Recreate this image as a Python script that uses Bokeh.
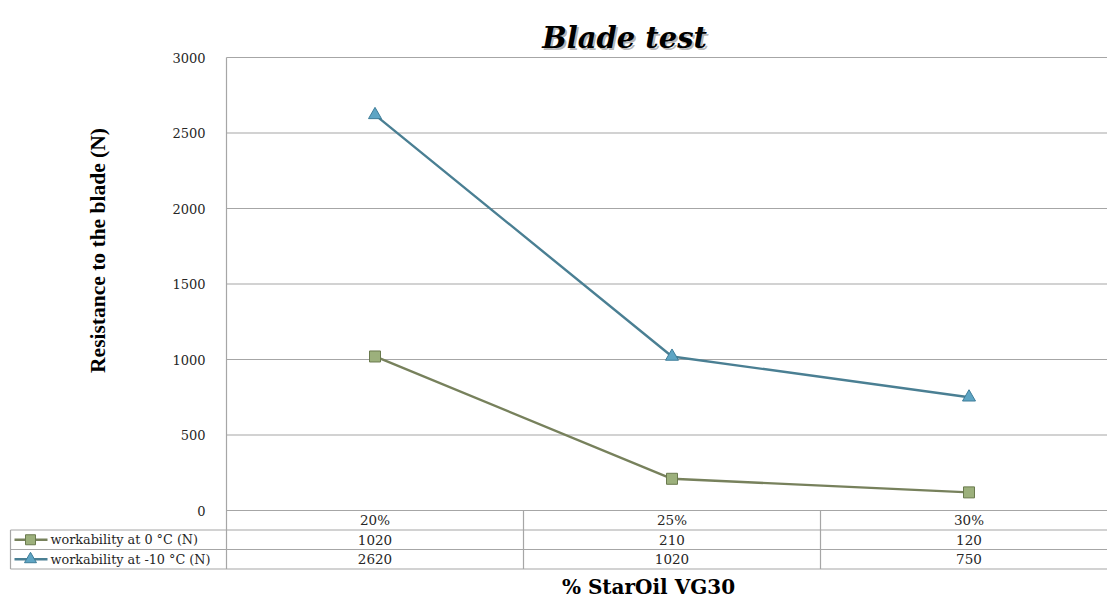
from bokeh.plotting import figure
from bokeh.models import Range1d, FixedTicker
from bokeh.core.properties import value
from bokeh.embed import file_html
from bokeh.resources import INLINE

# ---------------- data ----------------
CATEGORIES = ["20%", "25%", "30%"]
SERIES_NAMES = ["workability at 0 °C (N)", "workability at -10 °C (N)"]
WORK_0C = [1020, 210, 120]
WORK_M10C = [2620, 1020, 750]
Y_TICKS = [0, 500, 1000, 1500, 2000, 2500, 3000]
TITLE = "Blade test"
Y_LABEL = "Resistance to the blade (N)"
X_LABEL = "% StarOil VG30"

# ---------------- layout helpers (pixel geometry of the canvas) ----------------
W, H = 1107, 600
X0_PX, CELL_PX = 226, 297          # left edge of first category cell, cell width
Y0_PX, Y_TOP_PX = 510, 57          # pixel of value 0 and of value 3000
YMAX = 3000
KY = (Y0_PX - Y_TOP_PX) / YMAX     # pixels per unit


def dx(px):
    return (px - X0_PX) / CELL_PX


def dy(py):
    return (Y0_PX - py) / KY


p = figure(width=W, height=H, output_backend="svg", toolbar_location=None,
           x_range=Range1d(dx(0), dx(W)), y_range=Range1d(dy(H), dy(0)),
           min_border=0, min_border_left=0, min_border_right=0,
           min_border_top=0, min_border_bottom=0)
p.outline_line_color = None
p.xaxis.visible = False
p.xgrid.visible = False
p.ygrid.visible = False
p.background_fill_color = "white"
p.border_fill_color = "white"

GRID = "#A6A6A6"
TXT = "#262626"
n = len(CATEGORIES)
xs = [i + 0.5 for i in range(n)]
x_end = dx(W + 20)

# horizontal gridlines (value lines)
p.segment(x0=[0] * len(Y_TICKS), x1=[x_end] * len(Y_TICKS), y0=Y_TICKS, y1=Y_TICKS,
          line_color=GRID, line_width=1.2)

# table geometry
row_px = [Y0_PX, 529.5, 549, 568.5]
row_y = [dy(v) for v in row_px]
p.segment(x0=[dx(10)] * 3, x1=[x_end] * 3, y0=row_y[1:], y1=row_y[1:],
          line_color=GRID, line_width=1.2)
p.segment(x0=[0], x1=[0], y0=[YMAX], y1=[row_y[3]], line_color=GRID, line_width=1.2)
p.segment(x0=list(range(1, n)), x1=list(range(1, n)), y0=[0] * (n - 1),
          y1=[row_y[3]] * (n - 1), line_color=GRID, line_width=1.2)
p.segment(x0=[dx(10)], x1=[dx(10)], y0=[row_y[1]], y1=[row_y[3]],
          line_color=GRID, line_width=1.2)

# y axis (labels only, placed at value-axis position)
ya = p.yaxis[0]
ya.fixed_location = 0
ya.ticker = FixedTicker(ticks=Y_TICKS)
ya.axis_line_color = None
ya.major_tick_line_color = None
ya.minor_tick_line_color = None
ya.major_label_standoff = 15
ya.major_label_text_font = "DejaVu Serif"
ya.major_label_text_font_size = "13px"
ya.major_label_text_color = TXT

# series
styles = [
    dict(line="#77815C", fill="#9CB07C", edge="#6A7A4E", marker="square", size=11),
    dict(line="#4A7F93", fill="#5EA5C4", edge="#3E7D99", marker="triangle", size=13),
]
series = [WORK_0C, WORK_M10C]
for vals, st in zip(series, styles):
    p.line(xs, vals, line_color=st["line"], line_width=2.4)
    p.scatter(xs, vals, marker=st["marker"], size=st["size"], fill_color=st["fill"],
              line_color=st["edge"], line_width=1)

# table text
row_c = [dy((row_px[i] + row_px[i + 1]) / 2) for i in range(3)]
font = value("DejaVu Serif")
FS = "13.5px"
p.text(x=xs, y=[row_c[0]] * n, text=CATEGORIES, text_align="center",
       text_baseline="middle", text_font=font, text_font_size=FS, text_color=TXT)
for r, vals in enumerate(series):
    p.text(x=xs, y=[row_c[r + 1]] * n, text=[str(v) for v in vals], text_align="center",
           text_baseline="middle", text_font=font, text_font_size=FS, text_color=TXT)

# legend keys in table
for r, (name, st) in enumerate(zip(SERIES_NAMES, styles)):
    yc = row_c[r + 1]
    p.line([dx(14), dx(47)], [yc, yc], line_color=st["line"], line_width=2.4)
    p.scatter([dx(30)], [yc], marker=st["marker"], size=st["size"] - 1,
              fill_color=st["fill"], line_color=st["edge"], line_width=1)
    p.text(x=[dx(50)], y=[yc], text=[name], text_align="left", text_baseline="middle",
           text_font=font, text_font_size="12.8px", text_color=TXT)

# title with soft shadow
p.text(x=[dx(624) + 2 / CELL_PX], y=[dy(37) - 2 / KY], text=[TITLE], text_align="center",
       text_baseline="alphabetic", text_font=value("DejaVu Serif"), text_font_style="bold italic",
       text_font_size="29px", text_color="#000000", text_alpha=0.3)
p.text(x=[dx(624)], y=[dy(37)], text=[TITLE], text_align="center", text_baseline="alphabetic",
       text_font=value("DejaVu Serif"), text_font_style="bold italic",
       text_font_size="29px", text_color="#000000")

# axis titles
p.text(x=[dx(97)], y=[dy(250)], text=[Y_LABEL], angle=90, angle_units="deg",
       text_align="center", text_baseline="middle", text_font=value("Liberation Serif"),
       text_font_style="bold", text_font_size="21.5px", text_color="#000000")
p.text(x=[dx(648)], y=[dy(586)], text=[X_LABEL], text_align="center", text_baseline="middle",
       text_font=value("DejaVu Serif"), text_font_style="bold", text_font_size="20px",
       text_color="#000000")

open("out.html", "w").write(file_html(p, INLINE))
